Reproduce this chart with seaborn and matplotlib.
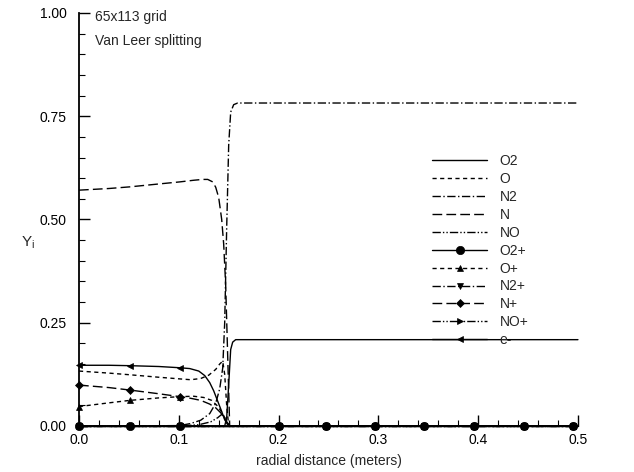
import numpy as np
import pandas as pd
import seaborn as sns
import matplotlib.pyplot as plt
from matplotlib.lines import Line2D
from matplotlib.ticker import MultipleLocator, FormatStrFormatter

# symbol stations (every n-th grid point), shared by all species
mark_x = [0.0, 0.051, 0.101, 0.2, 0.248, 0.297, 0.346, 0.396, 0.446, 0.495]

# post-shock stations
tail_x = [0.2, 0.248, 0.297, 0.346, 0.396, 0.446, 0.495, 0.5]

o2_x = [0.0, 0.051, 0.101, 0.146, 0.148, 0.150, 0.152, 0.154, 0.157] + tail_x
o2_y = [0.0, 0.0, 0.0, 0.0, 0.02, 0.10, 0.185, 0.203, 0.209,
        0.209, 0.209, 0.209, 0.209, 0.209, 0.209, 0.209, 0.209]

o_x = [0.0, 0.03, 0.051, 0.08, 0.101, 0.112, 0.122, 0.130, 0.137, 0.141, 0.144,
       0.146, 0.148, 0.150] + tail_x
o_y = [0.133, 0.128, 0.124, 0.118, 0.114, 0.112, 0.115, 0.123, 0.137, 0.150, 0.157,
       0.125, 0.05, 0.0,
       0.0, 0.0, 0.0, 0.0, 0.0, 0.0, 0.0, 0.0]

n2_x = [0.0, 0.051, 0.101, 0.112, 0.122, 0.131, 0.137, 0.141, 0.144, 0.146, 0.148,
        0.150, 0.152, 0.155, 0.159] + tail_x
n2_y = [0.0, 0.0, 0.001, 0.006, 0.014, 0.03, 0.055, 0.09, 0.14, 0.25, 0.48,
        0.68, 0.76, 0.778, 0.782,
        0.782, 0.782, 0.782, 0.782, 0.782, 0.782, 0.782, 0.782]

n_x = [0.0, 0.03, 0.051, 0.08, 0.101, 0.115, 0.124, 0.129, 0.134, 0.137, 0.140,
       0.143, 0.145, 0.147, 0.149, 0.151] + tail_x
n_y = [0.571, 0.575, 0.579, 0.586, 0.591, 0.595, 0.597, 0.597, 0.591, 0.578, 0.553,
       0.50, 0.44, 0.34, 0.17, 0.0,
       0.0, 0.0, 0.0, 0.0, 0.0, 0.0, 0.0, 0.0]

no_x = [0.0, 0.051, 0.101, 0.120, 0.132, 0.139, 0.143, 0.146, 0.149, 0.151] + tail_x
no_y = [0.0, 0.0, 0.0, 0.003, 0.01, 0.02, 0.028, 0.02, 0.006, 0.0,
        0.0, 0.0, 0.0, 0.0, 0.0, 0.0, 0.0, 0.0]

o2p_x = [0.0, 0.051, 0.101] + tail_x
o2p_y = [0.0, 0.0, 0.0, 0.0, 0.0, 0.0, 0.0, 0.0, 0.0, 0.0, 0.0]

op_x = [0.0, 0.03, 0.051, 0.08, 0.101, 0.115, 0.125, 0.133, 0.139, 0.144, 0.148,
        0.151] + tail_x
op_y = [0.047, 0.056, 0.062, 0.068, 0.071, 0.072, 0.069, 0.062, 0.048, 0.03, 0.01,
        0.0,
        0.0, 0.0, 0.0, 0.0, 0.0, 0.0, 0.0, 0.0]

n2p_x = [0.0, 0.051, 0.101] + tail_x
n2p_y = [0.0, 0.0, 0.0, 0.0, 0.0, 0.0, 0.0, 0.0, 0.0, 0.0, 0.0]

np_x = [0.0, 0.03, 0.051, 0.08, 0.101, 0.112, 0.122, 0.131, 0.137, 0.142, 0.146,
        0.149, 0.151] + tail_x
np_y = [0.099, 0.093, 0.087, 0.078, 0.071, 0.067, 0.062, 0.053, 0.044, 0.032, 0.018,
        0.006, 0.0,
        0.0, 0.0, 0.0, 0.0, 0.0, 0.0, 0.0, 0.0]

nop_x = [0.0, 0.051, 0.101] + tail_x
nop_y = [0.0, 0.0, 0.0, 0.0, 0.0, 0.0, 0.0, 0.0, 0.0, 0.0, 0.0]

em_x = [0.0, 0.03, 0.051, 0.08, 0.101, 0.111, 0.120, 0.126, 0.131, 0.135, 0.139,
        0.143, 0.146, 0.149, 0.151] + tail_x
em_y = [0.147, 0.147, 0.146, 0.144, 0.141, 0.139, 0.133, 0.122, 0.105, 0.085, 0.06,
        0.035, 0.015, 0.003, 0.0,
        0.0, 0.0, 0.0, 0.0, 0.0, 0.0, 0.0, 0.0]

species = ["O2", "O", "N2", "N", "NO", "O2+", "O+", "N2+", "N+", "NO+", "e-"]
xs = [o2_x, o_x, n2_x, n_x, no_x, o2p_x, op_x, n2p_x, np_x, nop_x, em_x]
ys = [o2_y, o_y, n2_y, n_y, no_y, o2p_y, op_y, n2p_y, np_y, nop_y, em_y]

short_dash = (0, (3, 2.5))
long_dash = (0, (7, 3))
dash_dot = (0, (6, 1.8, 1, 1.8))
dash_dot_dot = (0, (6, 1.5, 1, 1.5, 1, 1.5))

line_styles = ["-", short_dash, dash_dot, long_dash, dash_dot_dot,
               "-", short_dash, dash_dot, long_dash, dash_dot_dot, "-"]
markers = [None, None, None, None, None, "o", "^", "v", "D", ">", "<"]
marker_sizes = [0, 0, 0, 0, 0, 6, 5, 5, 4.2, 5, 5]

sns.set_style("ticks")
plt.rcParams['font.family'] = ['Liberation Sans', 'DejaVu Sans']
plt.rcParams['mathtext.fontset'] = 'custom'
plt.rcParams['mathtext.rm'] = 'Liberation Sans'

fig = plt.figure(figsize=(6.34, 4.72), dpi=100)
ax = fig.add_axes([0.1246, 0.0975, 0.787, 0.875])

# neutrals first, then ions, O2+ symbols on top
draw_order = [0, 1, 2, 3, 4, 10, 9, 8, 7, 6, 5]
for i in draw_order:
    df = pd.DataFrame({"x": xs[i], "y": ys[i]})
    kw = dict(color="black", linewidth=1.0, linestyle=line_styles[i], clip_on=False)
    if markers[i] is not None:
        idx = [k for k, v in enumerate(xs[i]) if any(abs(v - m) < 1e-9 for m in mark_x)]
        kw.update(marker=markers[i], markersize=marker_sizes[i], markevery=idx,
                  markeredgecolor="black", markerfacecolor="black",
                  markeredgewidth=0.5)
    sns.lineplot(data=df, x="x", y="y", ax=ax, estimator=None, sort=False, **kw)

handles = []
for i in range(len(species)):
    handles.append(Line2D([], [], color="black", linewidth=1.0,
                          linestyle=line_styles[i], marker=markers[i],
                          markersize=marker_sizes[i], markeredgecolor="black",
                          markerfacecolor="black", markeredgewidth=0.5,
                          label=species[i]))

ax.set_xlim(0, 0.5)
ax.set_ylim(0, 1.0)
ax.xaxis.set_major_locator(MultipleLocator(0.1))
ax.xaxis.set_minor_locator(MultipleLocator(0.02))
ax.yaxis.set_major_locator(MultipleLocator(0.25))
ax.yaxis.set_minor_locator(MultipleLocator(0.05))
ax.xaxis.set_major_formatter(FormatStrFormatter("%.1f"))
ax.yaxis.set_major_formatter(FormatStrFormatter("%.2f"))
ax.tick_params(which="major", direction="in", length=8, width=1.0,
               labelsize=10, colors="black", pad=5)
ax.tick_params(which="minor", direction="in", length=4, width=0.8, colors="black")
ax.tick_params(axis="y", which="major", pad=9)

sns.despine(ax=ax)
for side in ["left", "bottom"]:
    ax.spines[side].set_linewidth(1.3)
    ax.spines[side].set_color("black")

ax.set_xlabel("radial distance (meters)", fontsize=10, labelpad=5)
ax.set_ylabel(r"Y$_{\rm i}$", fontsize=11, rotation=0, ha="center", va="center")
ax.yaxis.set_label_coords(-0.102, 0.445)

ax.text(0.032, 0.99, "65x113 grid", transform=ax.transAxes,
        fontsize=10, ha="left", va="center")
ax.text(0.032, 0.932, "Van Leer splitting", transform=ax.transAxes,
        fontsize=10, ha="left", va="center")

ax.legend(handles=handles, loc="upper left", bbox_to_anchor=(0.707, 0.658),
          frameon=False, handlelength=4.0, handletextpad=0.9, labelspacing=0.28,
          borderpad=0, borderaxespad=0, numpoints=1, fontsize=10)

fig.savefig("out.png", dpi=100)
